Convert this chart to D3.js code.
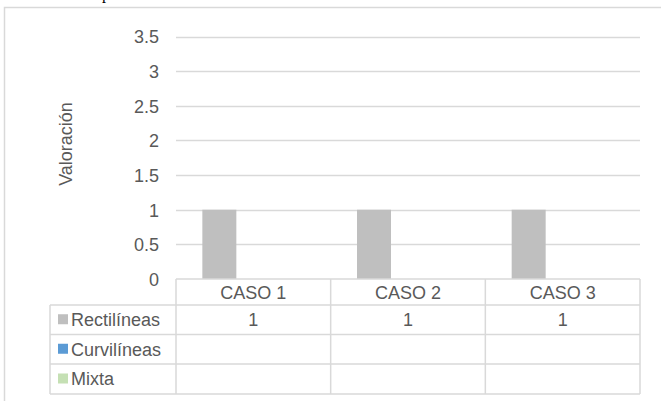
<!DOCTYPE html>
<html>
<head>
<meta charset="utf-8">
<script src="https://cdn.jsdelivr.net/npm/d3@7"></script>
<style>
  html, body { margin: 0; padding: 0; background: #fff; }
  svg { display: block; }
  text { font-family: "Liberation Sans", Arial, sans-serif; }
</style>
</head>
<body>
<svg id="chart" width="661" height="401"></svg>
<script>
// Data
const categories = ["CASO 1", "CASO 2", "CASO 3"];
const seriesNames = ["Rectilíneas", "Curvilíneas", "Mixta"];
const rectilineas = [1, 1, 1];
const curvilineas = [null, null, null];
const mixta = [null, null, null];
const yTicks = [0, 0.5, 1, 1.5, 2, 2.5, 3, 3.5];
const seriesColors = ["#bfbfbf", "#5b9bd5", "#c5e0b4"];

const seriesValues = [rectilineas, curvilineas, mixta];

const svg = d3.select("#chart");
const W = 661, H = 401;
const fontSize = 18;
const textColor = "#595959";

// Chart frame
const frameColor = "#d9d9d9";
svg.append("path")
  .attr("d", `M4.5,${H + 2} L4.5,7.5 L${W + 2},7.5`)
  .attr("fill", "none")
  .attr("stroke", frameColor)
  .attr("stroke-width", 1.5);

// Caption above the frame (only its descender reaches into view)
svg.append("text")
  .attr("x", 102)
  .attr("y", -1)
  .attr("font-size", 16)
  .attr("fill", "#000")
  .style("font-family", "'Liberation Serif', serif")
  .text("p");

// Plot geometry
const plotLeft = 176, plotRight = 640;
const plotTop = 36.5, plotBottom = 279;

const x = d3.scaleBand()
  .domain(categories)
  .range([plotLeft, plotRight])
  .paddingInner(0)
  .paddingOuter(0);

const y = d3.scaleLinear()
  .domain([0, 3.5])
  .range([plotBottom, plotTop]);

// Gridlines
svg.append("g")
  .selectAll("line")
  .data(yTicks.filter(t => t > 0))
  .join("line")
  .attr("x1", plotLeft)
  .attr("x2", plotRight)
  .attr("y1", d => Math.round(y(d)) + 0.5)
  .attr("y2", d => Math.round(y(d)) + 0.5)
  .attr("stroke", "#d9d9d9")
  .attr("stroke-width", 1.3);

// Y axis labels
const yAxis = d3.axisLeft(y)
  .tickValues(yTicks)
  .tickSize(0)
  .tickPadding(0)
  .tickFormat(d => String(d));

const yAxisG = svg.append("g")
  .attr("transform", `translate(159,0)`)
  .call(yAxis);
yAxisG.select(".domain").remove();
yAxisG.attr("font-size", fontSize).attr("font-family", null);
yAxisG.selectAll("text")
  .attr("font-size", fontSize)
  .attr("fill", textColor)
  .attr("dy", "0.35em")
  .style("font-family", "'Liberation Sans', Arial, sans-serif");

// Y axis title
svg.append("text")
  .attr("transform", `translate(72,144) rotate(-90)`)
  .attr("text-anchor", "middle")
  .attr("font-size", fontSize)
  .attr("fill", textColor)
  .text("Valoración");

// Bars
const inner = d3.scaleBand()
  .domain(seriesNames)
  .range([0, x.bandwidth()])
  .paddingInner(0)
  .paddingOuter(0.775);

const barData = [];
seriesNames.forEach((s, si) => {
  categories.forEach((c, ci) => {
    const v = seriesValues[si][ci];
    if (v != null) barData.push({ series: s, cat: c, value: v, color: seriesColors[si] });
  });
});

svg.append("g")
  .selectAll("rect")
  .data(barData)
  .join("rect")
  .attr("x", d => x(d.cat) + inner(d.series))
  .attr("width", inner.bandwidth())
  .attr("y", d => y(d.value))
  .attr("height", d => y(0) - y(d.value))
  .attr("fill", d => d.color);

// Data table
const lineColor = "#d9d9d9";
const headerTop = 279, headerBottom = 305;
const rowBounds = [305, 334.5, 364, 394];
const labelLeft = 50;

const table = svg.append("g")
  .attr("fill", "none")
  .attr("stroke", lineColor)
  .attr("stroke-width", 1.5);

// Horizontal lines across the category columns
[headerTop, ...rowBounds].forEach(yy => {
  table.append("line")
    .attr("x1", yy === headerTop ? plotLeft : labelLeft)
    .attr("x2", plotRight)
    .attr("y1", yy).attr("y2", yy);
});
// Vertical lines for the category columns
const colEdges = categories.map(c => x(c)).concat([plotRight]);
colEdges.forEach(xx => {
  table.append("line")
    .attr("x1", xx).attr("x2", xx)
    .attr("y1", headerTop).attr("y2", rowBounds[rowBounds.length - 1]);
});
// Left edge of the legend column
table.append("line")
  .attr("x1", labelLeft).attr("x2", labelLeft)
  .attr("y1", rowBounds[0]).attr("y2", rowBounds[rowBounds.length - 1]);

// Category headers
svg.append("g")
  .selectAll("text")
  .data(categories)
  .join("text")
  .attr("x", d => x(d) + x.bandwidth() / 2)
  .attr("y", (headerTop + headerBottom) / 2 + 1)
  .attr("dy", "0.35em")
  .attr("text-anchor", "middle")
  .attr("font-size", fontSize)
  .attr("fill", textColor)
  .text(d => d);

// Series rows: legend key, name and values
seriesNames.forEach((s, si) => {
  const top = rowBounds[si], bottom = rowBounds[si + 1];
  const mid = (top + bottom) / 2;
  svg.append("rect")
    .attr("x", 58)
    .attr("y", mid - 5.5)
    .attr("width", 10)
    .attr("height", 10)
    .attr("fill", seriesColors[si]);
  svg.append("text")
    .attr("x", 71)
    .attr("y", mid)
    .attr("dy", "0.35em")
    .attr("font-size", fontSize)
    .attr("fill", textColor)
    .text(s);
  categories.forEach((c, ci) => {
    const v = seriesValues[si][ci];
    if (v == null) return;
    svg.append("text")
      .attr("x", x(c) + x.bandwidth() / 2)
      .attr("y", mid)
      .attr("dy", "0.35em")
      .attr("text-anchor", "middle")
      .attr("font-size", fontSize)
      .attr("fill", textColor)
      .text(v);
  });
});
</script>
</body>
</html>
